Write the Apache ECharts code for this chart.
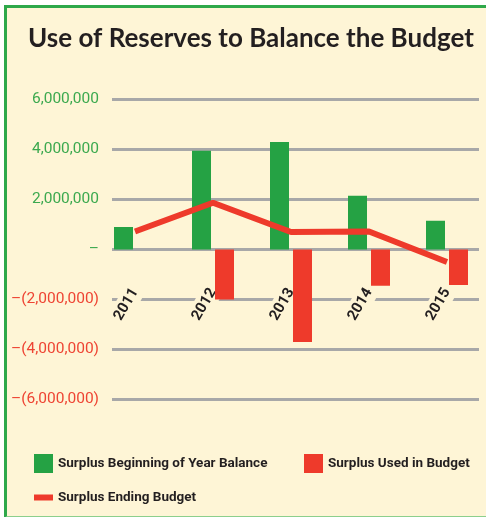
<!DOCTYPE html>
<html>
<head>
<meta charset="utf-8">
<script src="https://cdn.jsdelivr.net/npm/echarts@6/dist/echarts.min.js"></script>
<style>
html,body{margin:0;padding:0;background:#fff;width:486px;height:517px;overflow:hidden;}
#frame{position:absolute;left:4px;top:5px;width:500px;height:508px;background:#FEF5D6;border-left:3px solid #2EA84A;border-top:3px solid #2EA84A;border-bottom:2px solid #8CCF8C;}
#chart{position:absolute;left:0;top:0;width:486px;height:517px;}
</style>
</head>
<body>
<div id="frame"></div>
<div id="chart"></div>
<script>
var years = ['2011', '2012', '2013', '2014', '2015'];
var beginBalance = [900000, 3950000, 4300000, 2150000, 1150000];
var usedInBudget = [0, -2000000, -3700000, -1450000, -1420000];
var endingBudget = [720000, 1870000, 700000, 720000, -500000];
var yTicks = { min: -6000000, max: 6000000, interval: 2000000 };

var GREEN = '#25A244', RED = '#EE3A2B', DARK = '#231F20';
var NARROW = "Roboto, 'Liberation Sans', sans-serif";

function fmt(v) {
  if (v === 0) return '\u2013';
  var s = Math.abs(v).toString().replace(/\B(?=(\d{3})+(?!\d))/g, ',');
  return v < 0 ? '\u2013(' + s + ')' : s;
}

var legendText = { fontFamily: NARROW, fontWeight: 'bold', fontSize: 13.5, color: DARK };

var chart = echarts.init(document.getElementById('chart'), null, { renderer: 'canvas' });
chart.setOption({
  backgroundColor: 'transparent',
  animation: false,
  title: {
    text: 'Use of Reserves to Balance the Budget',
    left: 23, top: 21,
    textStyle: { fontFamily: 'Lato, sans-serif', fontWeight: 'bold', fontSize: 26, color: DARK }
  },
  legend: [
    {
      data: ['Surplus Beginning of Year Balance'],
      left: 29, top: 449, itemWidth: 19, itemHeight: 19, icon: 'rect', textStyle: legendText
    },
    {
      data: ['Surplus Used in Budget'],
      left: 299, top: 449, itemWidth: 19, itemHeight: 19, icon: 'rect', textStyle: legendText
    },
    {
      data: ['Surplus Ending Budget'],
      left: 29, top: 485.5, itemWidth: 19, itemHeight: 6, icon: 'rect', textStyle: legendText
    }
  ],
  grid: [
    { left: 112, right: 7, top: 99.5, bottom: 117.5 },
    { left: 96, right: -8, top: 99.5, bottom: 117.5 }
  ],
  xAxis: [
    { gridIndex: 0, type: 'category', data: years, show: false },
    {
      gridIndex: 1, type: 'category', data: years, z: 1,
      position: 'bottom', offset: -150,
      axisLine: { show: false, onZero: false },
      axisTick: { show: false },
      axisLabel: {
        rotate: 60, margin: 40, interval: 0,
        fontFamily: NARROW, fontWeight: 'bold', fontSize: 15, color: DARK,
        backgroundColor: '#FEF5D6', padding: [3, 0, 3, 4]
      }
    }
  ],
  yAxis: [
    {
      gridIndex: 0, type: 'value', min: yTicks.min, max: yTicks.max, interval: yTicks.interval,
      axisLine: { show: false }, axisTick: { show: false },
      splitLine: { lineStyle: { color: '#A8A8A8', width: 3 } },
      axisLabel: {
        margin: 13, fontFamily: NARROW, fontSize: 15.5,
        formatter: fmt,
        color: function (v) { return Number(v) < 0 ? '#EE4433' : '#3CA94F'; }
      }
    },
    {
      gridIndex: 1, type: 'value', min: yTicks.min, max: yTicks.max, interval: yTicks.interval,
      axisLine: { show: false }, axisTick: { show: false }, axisLabel: { show: false },
      splitLine: { show: false }
    }
  ],
  series: [
    {
      name: 'Surplus Beginning of Year Balance', type: 'bar', xAxisIndex: 1, yAxisIndex: 1,
      data: beginBalance, barWidth: 19, barGap: '21%', itemStyle: { color: GREEN }, z: 2
    },
    {
      name: 'Surplus Used in Budget', type: 'bar', xAxisIndex: 1, yAxisIndex: 1,
      data: usedInBudget, barWidth: 19, barGap: '21%', itemStyle: { color: RED }, z: 2
    },
    {
      name: 'Surplus Ending Budget', type: 'line', xAxisIndex: 1, yAxisIndex: 1,
      data: endingBudget, symbol: 'none', z: 4,
      lineStyle: { color: RED, width: 6 }, itemStyle: { color: RED }
    }
  ]
});
</script>
</body>
</html>
